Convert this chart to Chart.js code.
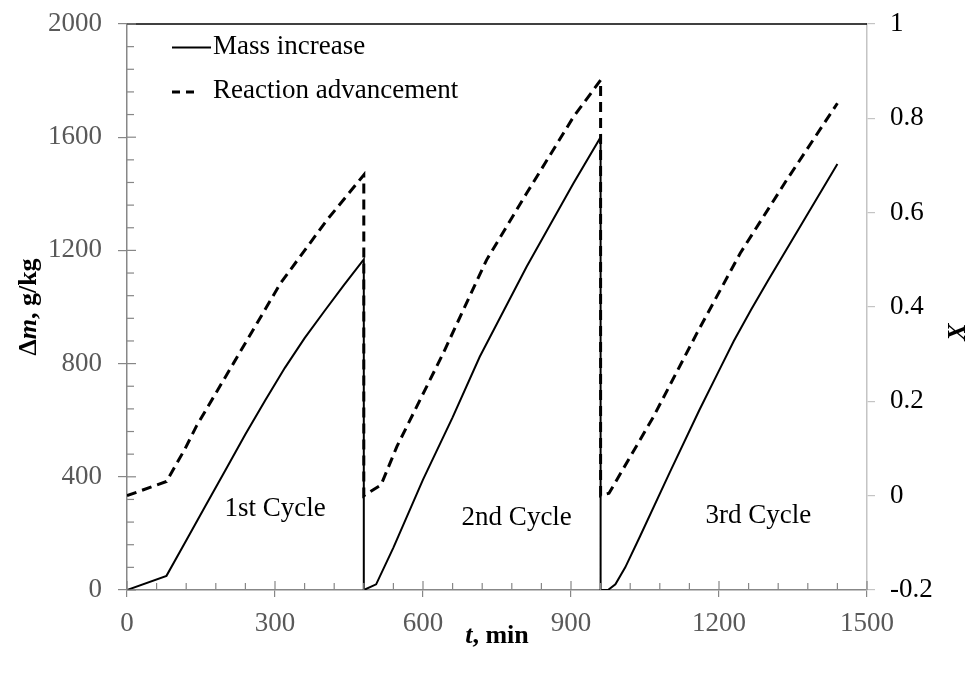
<!DOCTYPE html>
<html>
<head>
<meta charset="utf-8">
<script src="https://cdn.jsdelivr.net/npm/chart.js@4.4.0/dist/chart.umd.min.js"></script>
<style>
  html, body { margin: 0; padding: 0; background: #fff; }
  #wrap { width: 967px; height: 674px; position: relative; }
</style>
</head>
<body>
<div id="wrap"><canvas id="chart"></canvas></div>
<script>
// mass increase (g/kg) over three absorption cycles, left axis
const massTime = [0, 80, 120, 160, 200, 240, 280, 320, 360, 400, 440, 480,
  480, 505, 540, 600, 660, 715, 810, 905, 960,
  960, 975, 990, 1010, 1040, 1100, 1160, 1200, 1230, 1265, 1300, 1370, 1440];
const massValues = [0, 50, 175, 300, 425, 550, 670, 785, 890, 985, 1078, 1168,
  0, 20, 150, 390, 610, 824, 1142, 1437, 1600,
  0, 0, 20, 80, 190, 415, 635, 775, 880, 990, 1095, 1300, 1505];

// reaction advancement X, right axis
const advTime = [0, 80, 118, 141, 216, 311, 405, 480,
  480, 515, 547, 641, 729, 810, 905, 960,
  960, 977, 1067, 1155, 1243, 1337, 1440];
const advValues = [0, 0.03, 0.10, 0.148, 0.281, 0.45, 0.584, 0.68,
  0, 0.023, 0.104, 0.302, 0.50, 0.641, 0.803, 0.881,
  0, 0.005, 0.167, 0.344, 0.514, 0.669, 0.832];

const seriesNames = ['Mass increase', 'Reaction advancement'];
const cycleNames = ['1st Cycle', '2nd Cycle', '3rd Cycle'];
const cycleAt = [[300, 285], [790, 255], [1280, 262]];   // label centres in data units (t, Δm)

const serif = 'Liberation Serif, "Times New Roman", serif';
const axisGrey = '#878787';
const labelGrey = '#595959';

const toPoints = (xs, ys) => xs.map((x, i) => ({x: x, y: ys[i]}));

const drawLine = (ctx, x1, y1, x2, y2) => {
  ctx.beginPath();
  ctx.moveTo(x1, y1);
  ctx.lineTo(x2, y2);
  ctx.stroke();
};

// keep the plot box fixed: no extra room for the end tick labels
const noOverhang = s => {
  s.paddingTop = 0;
  s.paddingBottom = 0;
};

// frame, inner/minor ticks, legend, titles and cycle labels
const extras = {
  id: 'extras',
  afterDraw(chart) {
    const {ctx, chartArea: a, scales: {x, y}} = chart;
    ctx.save();

    ctx.strokeStyle = '#000';
    ctx.lineWidth = 1.5;
    drawLine(ctx, a.left, a.top, a.right, a.top);

    ctx.strokeStyle = axisGrey;
    ctx.lineWidth = 1.2;
    for (let t = 0; t <= 1500; t += 60) {
      const px = x.getPixelForValue(t);
      const len = t % 300 === 0 ? 9 : 7;
      drawLine(ctx, px, a.bottom, px, a.bottom - len);
    }
    for (let v = 0; v <= 2000; v += 80) {
      const py = y.getPixelForValue(v);
      const len = v % 400 === 0 ? 9 : 7;
      drawLine(ctx, a.left, py, a.left + len, py);
    }

    // legend
    ctx.strokeStyle = '#000';
    ctx.fillStyle = '#000';
    ctx.font = '27px ' + serif;
    ctx.textBaseline = 'middle';
    ctx.textAlign = 'left';
    const lx = a.left + 45;
    ctx.lineWidth = 2;
    drawLine(ctx, lx, a.top + 23.5, lx + 39, a.top + 23.5);
    ctx.fillText(seriesNames[0], lx + 41, a.top + 23);
    ctx.lineWidth = 3;
    ctx.setLineDash([8, 6]);
    drawLine(ctx, lx, a.top + 68, lx + 23, a.top + 68);
    ctx.setLineDash([]);
    ctx.fillText(seriesNames[1], lx + 41, a.top + 67);

    // cycle labels
    ctx.textAlign = 'center';
    ctx.font = '27px ' + serif;
    cycleNames.forEach((name, i) => {
      ctx.fillText(name, x.getPixelForValue(cycleAt[i][0]), y.getPixelForValue(cycleAt[i][1]));
    });

    // axis titles with mixed styles
    const runs = (parts, cx, cy) => {
      let w = 0;
      parts.forEach(p => { ctx.font = p[1]; w += ctx.measureText(p[0]).width; });
      let px = cx - w / 2;
      ctx.textAlign = 'left';
      parts.forEach(p => {
        ctx.font = p[1];
        ctx.fillText(p[0], px, cy);
        px += ctx.measureText(p[0]).width;
      });
    };
    const b = 'bold 26px ' + serif;
    const bi = 'italic bold 26px ' + serif;

    runs([['t', bi], [', min', b]], (a.left + a.right) / 2, 636);

    ctx.save();
    ctx.translate(29, (a.top + a.bottom) / 2);
    ctx.rotate(-Math.PI / 2);
    runs([['Δ', b], ['m', bi], [', g/kg', b]], 0, 0);
    ctx.restore();

    ctx.save();
    ctx.translate(958, 332);
    ctx.rotate(-Math.PI / 2);
    runs([['X', bi]], 0, 0);
    ctx.restore();

    ctx.restore();
  }
};

new Chart(document.getElementById('chart'), {
  type: 'line',
  data: {
    datasets: [
      {
        label: seriesNames[0],
        data: toPoints(massTime, massValues),
        yAxisID: 'y',
        borderColor: '#000',
        borderWidth: 2,
        pointRadius: 0,
        tension: 0
      },
      {
        label: seriesNames[1],
        data: toPoints(advTime, advValues),
        yAxisID: 'y1',
        borderColor: '#000',
        borderWidth: 3,
        borderDash: [10, 6],
        pointRadius: 0,
        tension: 0
      }
    ]
  },
  options: {
    responsive: true,
    maintainAspectRatio: false,
    animation: false,
    layout: {padding: {top: 24, left: 0, right: 0, bottom: 0}},
    plugins: {
      legend: {display: false},
      tooltip: {enabled: false}
    },
    scales: {
      x: {
        type: 'linear',
        min: 0,
        max: 1500,
        afterFit: s => { s.height = 84; },
        border: {color: axisGrey, width: 1.5},
        grid: {drawOnChartArea: false, drawTicks: true, tickLength: 7, color: axisGrey, lineWidth: 1.2},
        ticks: {stepSize: 300, color: labelGrey, padding: 11, font: {family: serif, size: 27}, maxRotation: 0,
          callback: v => String(v)}
      },
      y: {
        position: 'left',
        min: 0,
        max: 2000,
        afterFit: s => { s.width = 127; noOverhang(s); },
        border: {color: axisGrey, width: 1.5},
        grid: {drawOnChartArea: false, drawTicks: true, tickLength: 9, color: axisGrey, lineWidth: 1.2},
        ticks: {stepSize: 400, color: labelGrey, padding: 16, font: {family: serif, size: 27},
          callback: v => String(v)}
      },
      y1: {
        position: 'right',
        min: -0.2,
        max: 1,
        afterFit: s => { s.width = 100; noOverhang(s); },
        border: {color: '#c4c4c4', width: 1.5},
        grid: {drawOnChartArea: false, drawTicks: true, tickLength: 8, color: '#c4c4c4', lineWidth: 1.2},
        ticks: {
          stepSize: 0.2,
          color: '#000',
          padding: 15,
          font: {family: serif, size: 27},
          callback: v => String(Math.round(v * 10) / 10)
        }
      }
    }
  },
  plugins: [extras]
});
</script>
</body>
</html>
